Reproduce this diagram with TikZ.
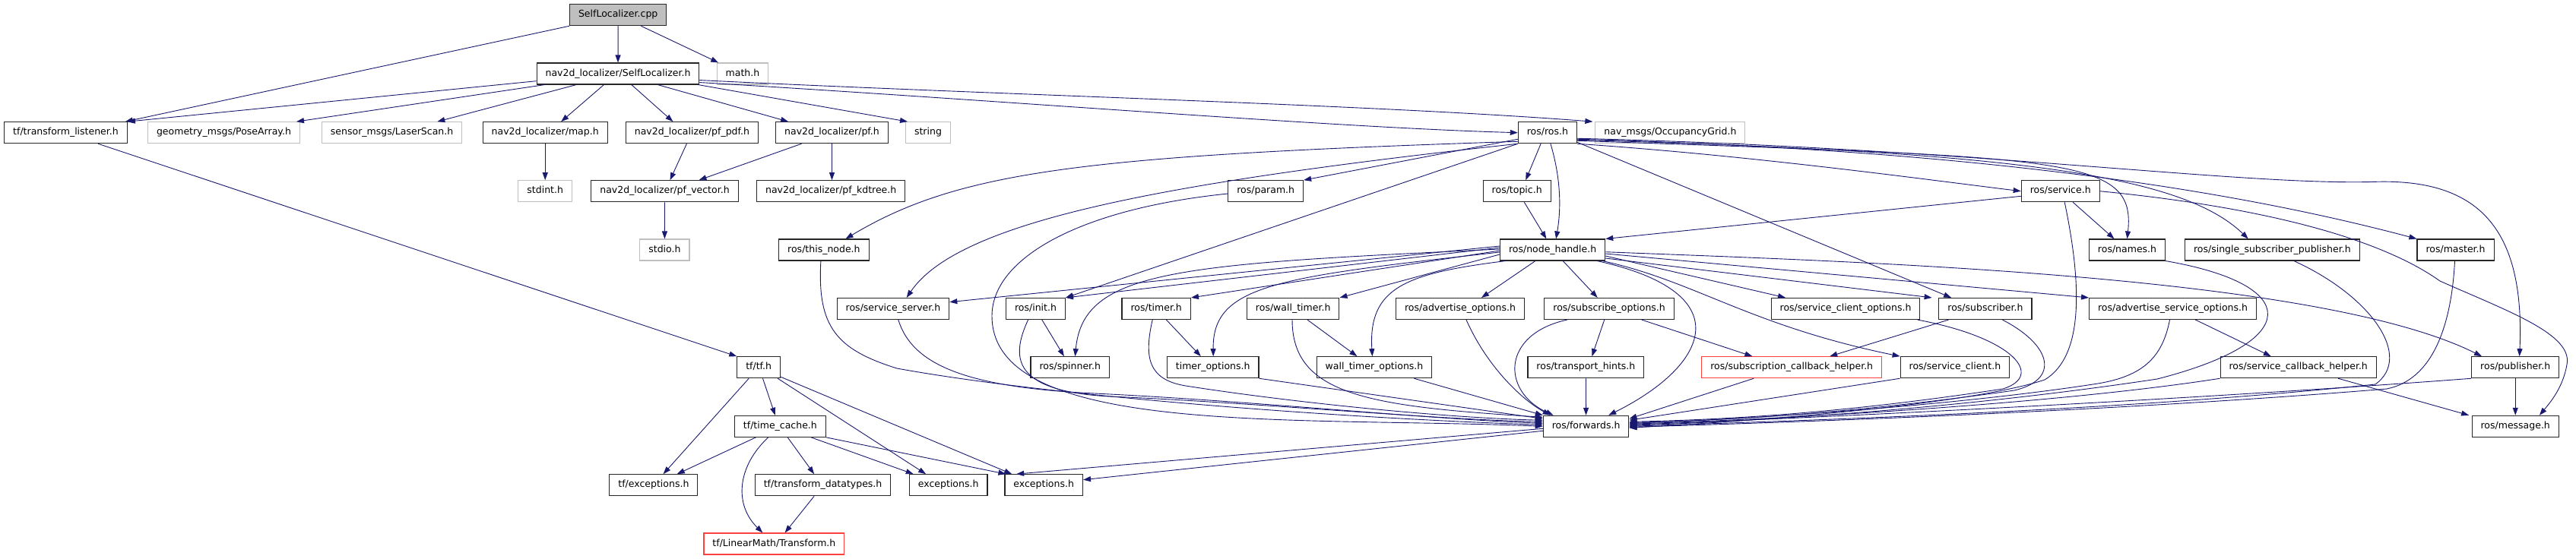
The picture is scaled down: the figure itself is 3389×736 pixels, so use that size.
\documentclass[tikz,border=0pt]{standalone}
\usepackage{fontspec}
\setmainfont{DejaVu Sans}
\usetikzlibrary{arrows.meta}
\definecolor{edgec}{HTML}{191970}
\definecolor{grayb}{HTML}{BFBFBF}
\definecolor{redb}{HTML}{FF4040}
\begin{document}
\begin{tikzpicture}[x=1pt,y=-1pt,
  box/.style={draw=black!85, line width=1.1pt, rectangle, minimum height=28pt, inner xsep=11.5pt, inner ysep=0pt, text height=9pt, text depth=2.8pt, font=\fontsize{12.5}{15}\selectfont},
  ext/.style={box, draw=grayb},
  redbox/.style={box, draw=redb},
  root/.style={box, fill=grayb},
  dep/.style={draw=edgec, line width=0.9pt, -{Triangle[length=10pt,width=7pt]}}]
\useasboundingbox (0,0) rectangle (3389,736);
% nodes
\node[root] (cpp) at (813.2,19.7) {SelfLocalizer.cpp};
\node[box] (slh) at (813,97) {nav2d\_localizer/SelfLocalizer.h};
\node[ext] (math) at (977,97) {math.h};
\node[box] (tfl) at (86.5,174.7) {tf/transform\_listener.h};
\node[ext] (pose) at (294.5,174.7) {geometry\_msgs/PoseArray.h};
\node[ext] (laser) at (515.6,174.7) {sensor\_msgs/LaserScan.h};
\node[box] (map) at (717.2,174.7) {nav2d\_localizer/map.h};
\node[box] (pfpdf) at (910.4,174.7) {nav2d\_localizer/pf\_pdf.h};
\node[box] (pfh) at (1094.5,174.7) {nav2d\_localizer/pf.h};
\node[ext] (string) at (1221,174.7) {string};
\node[box] (rosh) at (2035.9,174.7) {ros/ros.h};
\node[ext] (navmsgs) at (2197.4,174.7) {nav\_msgs/OccupancyGrid.h};
\node[ext] (stdint) at (717.2,251.7) {stdint.h};
\node[box] (pfvec) at (874.5,251.7) {nav2d\_localizer/pf\_vector.h};
\node[box] (pfkd) at (1093.2,251.7) {nav2d\_localizer/pf\_kdtree.h};
\node[box] (param) at (1665.2,251.7) {ros/param.h};
\node[box] (topic) at (1995.7,251.7) {ros/topic.h};
\node[box] (service) at (2710.7,251.7) {ros/service.h};
\node[ext] (stdio) at (874.4,329) {stdio.h};
\node[box] (thisnode) at (1083.9,329) {ros/this\_node.h};
\node[box] (nh) at (2042.6,329) {ros/node\_handle.h};
\node[box] (names) at (2798.5,329) {ros/names.h};
\node[box] (ssp) at (2989.3,329) {ros/single\_subscriber\_publisher.h};
\node[box] (master) at (3230.5,329) {ros/master.h};
\node[box] (srvserver) at (1175,406.5) {ros/service\_server.h};
\node[box] (init) at (1362.5,406.5) {ros/init.h};
\node[box] (timer) at (1521.2,406.5) {ros/timer.h};
\node[box] (walltimer) at (1701.2,406.5) {ros/wall\_timer.h};
\node[box] (advopt) at (1921,406.5) {ros/advertise\_options.h};
\node[box] (subopt) at (2117.1,406.5) {ros/subscribe\_options.h};
\node[box] (sco) at (2428,406.5) {ros/service\_client\_options.h};
\node[box] (subscriber) at (2611.9,406.5) {ros/subscriber.h};
\node[box] (aso) at (2858.5,406.5) {ros/advertise\_service\_options.h};
\node[box] (tf) at (998.2,483.7) {tf/tf.h};
\node[box] (spinner) at (1407.8,483.7) {ros/spinner.h};
\node[box] (timeropt) at (1595.7,483.7) {timer\_options.h};
\node[box] (wto) at (1808,483.7) {wall\_timer\_options.h};
\node[box] (hints) at (2086.4,483.7) {ros/transport\_hints.h};
\node[redbox] (sch) at (2357.2,483.7) {ros/subscription\_callback\_helper.h};
\node[box] (sclient) at (2571.9,483.7) {ros/service\_client.h};
\node[box] (scbh) at (3023.7,483.7) {ros/service\_callback\_helper.h};
\node[box] (publisher) at (3309.2,483.7) {ros/publisher.h};
\node[box] (timecache) at (1026.4,561.3) {tf/time\_cache.h};
\node[box] (fwd) at (2086.6,561.3) {ros/forwards.h};
\node[box] (message) at (3309.2,561.3) {ros/message.h};
\node[box] (tfexc) at (859.9,638.7) {tf/exceptions.h};
\node[box] (tdt) at (1082.6,638.7) {tf/transform\_datatypes.h};
\node[box] (exc1) at (1247.7,638.7) {exceptions.h};
\node[box] (exc2) at (1373.2,638.7) {exceptions.h};
\node[redbox] (lmt) at (1018.4,716) {tf/LinearMath/Transform.h};
% top edges
\draw[dep] (cpp.south west) -- ([xshift=-3pt]tfl.north east);
\draw[dep] (cpp) -- (slh);
\draw[dep] ([xshift=-34pt]cpp.south east) -- ([xshift=2.5pt]math.north west);
\draw[dep] ([yshift=-9.7pt]slh.west) -- (tfl.north east);
\draw[dep] ([xshift=11pt]slh.south west) -- ([xshift=-5pt]pose.north east);
\draw[dep] ([xshift=52.7pt]slh.south west) -- ([xshift=-33pt]laser.north east);
\draw[dep] ([xshift=-18.5pt]slh.south) -- ([xshift=21pt]map.north);
\draw[dep] ([xshift=17.8pt]slh.south) -- ([xshift=-25pt]pfpdf.north);
\draw[dep] ([xshift=52.3pt]slh.south) -- ([xshift=17pt]pfh.north west);
\draw[dep] ([xshift=-2pt]slh.south east) -- ([xshift=3pt]string.north west);
\draw[dep] ([yshift=3pt]slh.south east) .. controls (1316,132) and (1756,168) .. (rosh.west);
\draw[dep] ([yshift=6pt]slh.south east) .. controls (1316,125) and (1811,138) .. ([xshift=-3pt]navmsgs.north west);
% nav2d
\draw[dep] (map) -- (stdint);
\draw[dep] ([xshift=-7pt]pfpdf.south) -- ([xshift=7pt]pfvec.north);
\draw[dep] ([xshift=-40pt]pfh.south) -- ([xshift=45pt]pfvec.north);
\draw[dep] (pfh.south) -- (pfh.south |- pfkd.north);
\draw[dep] (pfvec) -- (stdio);
\draw[dep] ([xshift=42.5pt]tfl.south) -- (tf.north west);
% tf
\draw[dep] ([xshift=-13pt]tf.south) -- ([xshift=12.7pt]tfexc.north);
\draw[dep] ([xshift=5.3pt]tf.south) -- ([xshift=-6.6pt]timecache.north);
\draw[dep] ([xshift=-4pt]tf.south east) -- ([xshift=-29.6pt]exc1.north);
\draw[dep] ([yshift=2pt]tf.south east) -- ([xshift=-42pt]exc2.north);
\draw[dep] ([xshift=-32pt]timecache.south) -- ([xshift=30.9pt]tfexc.north);
\draw[dep] ([xshift=-15.7pt]timecache.south) .. controls (969,615) and (966,665) .. ([xshift=-15pt]lmt.north);
\draw[dep] ([xshift=9.8pt]timecache.south) -- ([xshift=-11.5pt]tdt.north);
\draw[dep] ([xshift=40.7pt]timecache.south) -- ([xshift=-46pt]exc1.north);
\draw[dep] (timecache.south east) -- ([xshift=2pt]exc2.north west);
\draw[dep] ([xshift=-11.5pt]tdt.south) -- ([xshift=14.2pt]lmt.north);
% ros.h
\draw[dep] ([yshift=6pt]rosh.south west) -- (param.north east);
\draw[dep] ([yshift=3pt]rosh.south west) .. controls (1425,205) and (1262,225) .. ([xshift=28.6pt]thisnode.north);
\draw[dep] (rosh.south west) .. controls (1534,240) and (1262,290) .. ([xshift=17.7pt]srvserver.north);
\draw[dep] (rosh.south west) -- (init.north east);
\draw[dep] ([xshift=-8.8pt]rosh.south) -- ([xshift=11.5pt]topic.north);
\draw[dep] ([xshift=4pt]rosh.south) .. controls (2055,240) and (2053,280) .. ([xshift=4.5pt]nh.north);
\draw[dep] (rosh.south east) .. controls (2305,205) and (2523,235) .. (service.west);
\draw[dep] ([yshift=4pt]rosh.south east) .. controls (2720,208) and (2810,205) .. (names.north);
\draw[dep] ([yshift=5pt]rosh.south east) .. controls (2650,200) and (2870,230) .. ([xshift=-31.5pt]ssp.north);
\draw[dep] ([yshift=6pt]rosh.south east) .. controls (2500,195) and (2870,232) .. (master.north west);
\draw[dep] ([yshift=7pt]rosh.south east) .. controls (2600,195) and (2950,245) .. (3126.8,239.3) .. controls (3260,236) and (3322,300) .. ([xshift=5.4pt]publisher.north);
\draw[dep] ([yshift=2pt]rosh.south east) -- ([xshift=16.8pt]subscriber.north west);
% rows 4-5
\draw[dep] ([xshift=9.6pt]topic.south) -- ([xshift=-8.2pt]nh.north);
\draw[dep] ([yshift=-6.6pt]service.west) -- (nh.north east);
\draw[dep] ([xshift=16.4pt]service.south) -- ([xshift=-17pt]names.north);
\draw[dep] ([xshift=5.5pt]service.south) .. controls (2740,380) and (2740,470) .. (2690,500) .. controls (2600,530) and (2350,552) .. ([yshift=-2pt]fwd.east);
\draw[dep] (service.east) .. controls (3000,275) and (3140,320) .. (3210,370) .. controls (3300,410) and (3385,440) .. (3377,480) .. controls (3372,510) and (3355,530) .. ([xshift=31.7pt]message.north);
\draw[dep] (names.south east) .. controls (3030,375) and (3030,450) .. (2838,499) .. controls (2600,535) and (2350,553) .. ([yshift=1pt]fwd.east);
\draw[dep] ([xshift=28.6pt]ssp.south) .. controls (3120,390) and (3175,470) .. (3125,506) .. controls (2800,540) and (2400,553) .. (fwd.east);
\draw[dep] ([xshift=-1pt]master.south) .. controls (3225,430) and (3200,500) .. (3140,512) .. controls (2800,540) and (2400,555) .. ([yshift=-1pt]fwd.east);
\draw[dep] (publisher) -- (message);
\draw[dep] (publisher.south west) .. controls (2900,525) and (2400,550) .. ([yshift=2pt]fwd.east);
\draw[dep] ([xshift=52.4pt]scbh.south) -- ([xshift=-3.4pt]message.north west);
\draw[dep] (scbh.south west) .. controls (2750,525) and (2450,548) .. ([yshift=3pt]fwd.east);
\draw[dep] ([xshift=29.8pt]aso.south) -- ([xshift=-35.9pt]scbh.north);
\draw[dep] ([xshift=-4pt]aso.south) .. controls (2845,470) and (2820,495) .. (2760,505) .. controls (2600,530) and (2350,550) .. ([yshift=4pt]fwd.east);
% node_handle
\draw[dep] ([yshift=-2.7pt]nh.east) .. controls (2450,345) and (3050,362) .. ([xshift=13.9pt]publisher.north west);
\draw[dep] ([yshift=-5pt]nh.east) -- (aso.north west);
\draw[dep] ([yshift=-8pt]nh.east) -- ([xshift=-79pt]sco.north);
\draw[dep] ([yshift=-11pt]nh.east) -- ([xshift=-8.7pt]subscriber.north west);
\draw[dep] ([xshift=-4pt]nh.south east) .. controls (2230,370) and (2300,428) .. (sclient.north west);
\draw[dep] ([xshift=-11pt]nh.south east) .. controls (2290,385) and (2250,480) .. ([xshift=29.6pt]fwd.north);
\draw[dep] ([xshift=13.6pt]nh.south) -- ([xshift=-15.4pt]subopt.north);
\draw[dep] ([xshift=-22.7pt]nh.south) -- ([xshift=28pt]advopt.north);
\draw[dep] ([xshift=-62pt]nh.south) .. controls (1850,360) and (1800,378) .. ([xshift=-2.6pt]wto.north);
\draw[dep] ([yshift=-6pt]nh.west) -- (walltimer.north east);
\draw[dep] ([yshift=-3pt]nh.west) .. controls (1680,365) and (1595,375) .. ([xshift=0.5pt]timeropt.north);
\draw[dep] ([yshift=-1pt]nh.west) -- (timer.north east);
\draw[dep] ([yshift=1pt]nh.west) .. controls (1550,348) and (1425,355) .. ([xshift=6.6pt]spinner.north);
\draw[dep] ([yshift=3pt]nh.west) -- (init.north east);
\draw[dep] ([yshift=5pt]nh.west) -- ([yshift=8.8pt]srvserver.east);
% row 6 -> 7/8
\draw[dep] ([xshift=42.7pt]subopt.south) -- ([xshift=-51.8pt]sch.north);
\draw[dep] ([xshift=-55.4pt]subopt.south) .. controls (1975,440) and (1975,515) .. ([xshift=-43pt]fwd.north);
\draw[dep] ([xshift=-6.4pt]subopt.south) -- ([xshift=8pt]hints.north);
\draw[dep] ([xshift=8pt]advopt.south) .. controls (1955,480) and (2000,525) .. ([xshift=-47pt]fwd.north);
\draw[dep] (hints) -- (fwd);
\draw[dep] ([xshift=-24pt]wto.south east) -- (fwd.north west);
\draw[dep] ([xshift=18.8pt]walltimer.south) -- ([xshift=-22.6pt]wto.north);
\draw[dep] ([xshift=-1.2pt]walltimer.south) .. controls (1700,520) and (1800,535) .. ([yshift=12pt]fwd.west);
\draw[dep] ([xshift=13.2pt]timer.south) -- ([xshift=-15.9pt]timeropt.north);
\draw[dep] ([xshift=-5pt]timer.south) .. controls (1505,470) and (1510,500) .. (1560,508) .. controls (1700,530) and (1900,550) .. ([yshift=8pt]fwd.west);
\draw[dep] (timeropt.south east) -- ([yshift=10pt]fwd.west);
\draw[dep] ([xshift=8.3pt]init.south) -- ([xshift=-7.9pt]spinner.north);
\draw[dep] ([xshift=-9.9pt]init.south) .. controls (1330,470) and (1330,515) .. (1460,522) .. controls (1650,530) and (1880,552) .. ([yshift=6pt]fwd.west);
\draw[dep] ([xshift=6.8pt]srvserver.south) .. controls (1200,480) and (1270,510) .. (1440,518) .. controls (1650,528) and (1880,552) .. ([yshift=4pt]fwd.west);
\draw[dep] ([xshift=-4pt]thisnode.south) .. controls (1075,430) and (1100,460) .. (1180,485) .. controls (1400,525) and (1800,552) .. ([yshift=2pt]fwd.west);
\draw[dep] ([yshift=-3.3pt]param.west) .. controls (1420,275) and (1305,340) .. (1305,416) .. controls (1305,575) and (1700,548) .. (fwd.west);
\draw[dep] ([xshift=-3.7pt]sco.south east) .. controls (2650,445) and (2690,495) .. (2635,512) .. controls (2450,540) and (2300,552) .. ([yshift=6pt]fwd.east);
\draw[dep] ([xshift=22.5pt]subscriber.south) .. controls (2700,455) and (2710,500) .. (2650,514) .. controls (2460,541) and (2300,553) .. ([yshift=5pt]fwd.east);
\draw[dep] ([xshift=-48.4pt]subscriber.south) -- ([xshift=50pt]sch.north);
\draw[dep] ([xshift=-50pt]sch.south) -- ([yshift=10pt]fwd.east);
\draw[dep] (sclient.south west) -- ([yshift=8pt]fwd.east);
\draw[dep] ([yshift=-3pt]fwd.west) -- ([xshift=-36pt]exc2.north);
\draw[dep] ([yshift=-6pt]fwd.west) -- ([yshift=7pt]exc2.east);
\end{tikzpicture}
\end{document}
